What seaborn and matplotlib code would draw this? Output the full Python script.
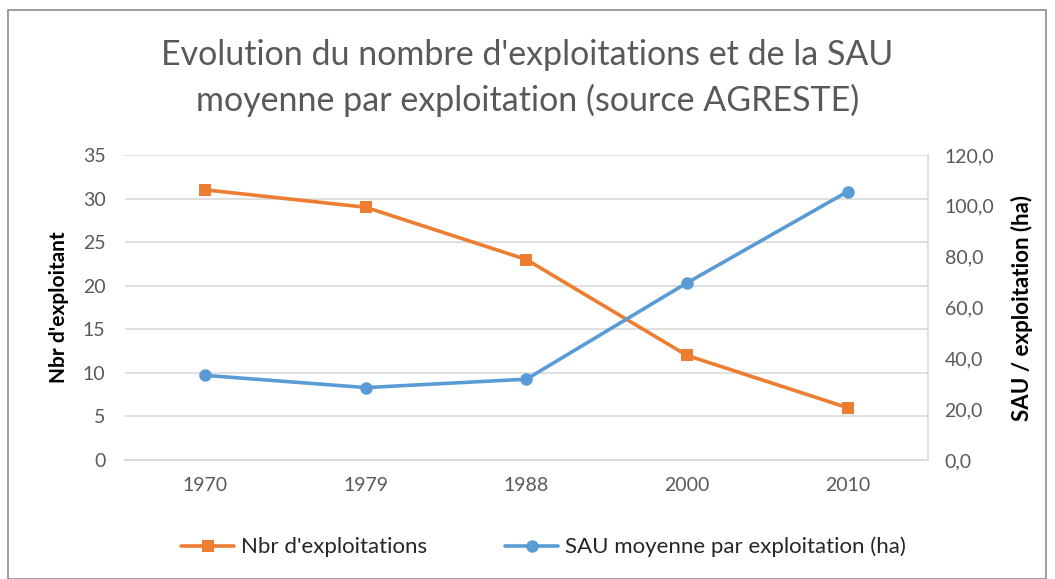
import matplotlib
matplotlib.use("Agg")
import matplotlib.pyplot as plt
import seaborn as sns
import pandas as pd
from matplotlib.patches import Rectangle

years = ["1970", "1979", "1988", "2000", "2010"]
nbr_exploitations = [31, 29, 23, 12, 6]
sau_moyenne = [33.3, 28.5, 31.8, 69.7, 105.6]

orange = "#ED7D31"
blue = "#5B9BD5"
grey_text = "#595959"
grid_col = "#D9D9D9"

sns.set_style("white")
plt.rcParams["font.family"] = ["Lato", "DejaVu Sans"]

df = pd.DataFrame({"pos": range(len(years)), "year": years,
                   "nbr": nbr_exploitations, "sau": sau_moyenne})

fig = plt.figure(figsize=(10.55, 5.79), dpi=100)
ax = fig.add_axes([0.1185, 0.2055, 0.761, 0.5268])
ax2 = ax.twinx()

sns.lineplot(data=df, x="pos", y="nbr", ax=ax, color=orange, marker="s",
             markersize=8, markeredgewidth=0, linewidth=2.6,
             label="Nbr d'exploitations", legend=False)
sns.lineplot(data=df, x="pos", y="sau", ax=ax2, color=blue, marker="o",
             markersize=9, markeredgewidth=0, linewidth=2.6,
             label="SAU moyenne par exploitation (ha)", legend=False)

ax.set_xlim(-0.5, len(years) - 0.5)
ax.set_ylim(0, 35)
ax.set_yticks(range(0, 36, 5))
ax2.set_ylim(0, 120)
ax2.set_yticks(range(0, 121, 20))
ax2.set_yticklabels([f"{v},0" for v in range(0, 121, 20)])

ax.set_xticks(df["pos"])
ax.set_xticklabels(years)
ax.set_xticks([i - 0.5 for i in range(len(years) + 1)], minor=True)
ax.tick_params(axis="x", which="major", length=0, pad=12, labelsize=14,
               labelcolor=grey_text)
ax.tick_params(axis="x", which="minor", length=7, color=grid_col, width=1.2)
ax.tick_params(axis="y", length=0, labelsize=14, labelcolor=grey_text, pad=14)
ax2.tick_params(axis="y", length=0, labelsize=14, labelcolor=grey_text, pad=12)

ax.yaxis.grid(True, color=grid_col, linewidth=1.2)
ax.set_axisbelow(True)
for a in (ax, ax2):
    a.spines["top"].set_visible(False)
    a.spines["left"].set_visible(False)
    a.spines["right"].set_visible(False)
    a.spines["bottom"].set_color(grid_col)
    a.spines["bottom"].set_linewidth(1.2)
ax2.spines["right"].set_visible(True)
ax2.spines["right"].set_color(grid_col)
ax2.spines["right"].set_linewidth(1.2)

ax.set_xlabel("")
ax.set_ylabel("Nbr d'exploitant", fontsize=15, fontweight="bold",
              color="black", labelpad=10)
ax2.set_ylabel("SAU / exploitation (ha)", fontsize=16, fontweight="bold",
               color="black", labelpad=12)

fig.text(0.5, 0.905, "Evolution du nombre d'exploitations et de la SAU",
         ha="center", va="center", fontsize=24.5, color=grey_text)
fig.text(0.5, 0.827, "moyenne par exploitation (source AGRESTE)",
         ha="center", va="center", fontsize=24.5, color=grey_text)

h1, l1 = ax.get_legend_handles_labels()
h2, l2 = ax2.get_legend_handles_labels()
fig.legend(h1 + h2, l1 + l2, loc="center", bbox_to_anchor=(0.515, 0.055),
           ncol=2, frameon=False, fontsize=16, handlelength=2.4,
           columnspacing=3.5, handletextpad=0.3)

fig.patches.append(Rectangle((0.008, 0.0), 0.983, 0.983, transform=fig.transFigure,
                             fill=False, edgecolor="#8C8C8C", linewidth=1.2))

fig.savefig("out.png", dpi=100)
